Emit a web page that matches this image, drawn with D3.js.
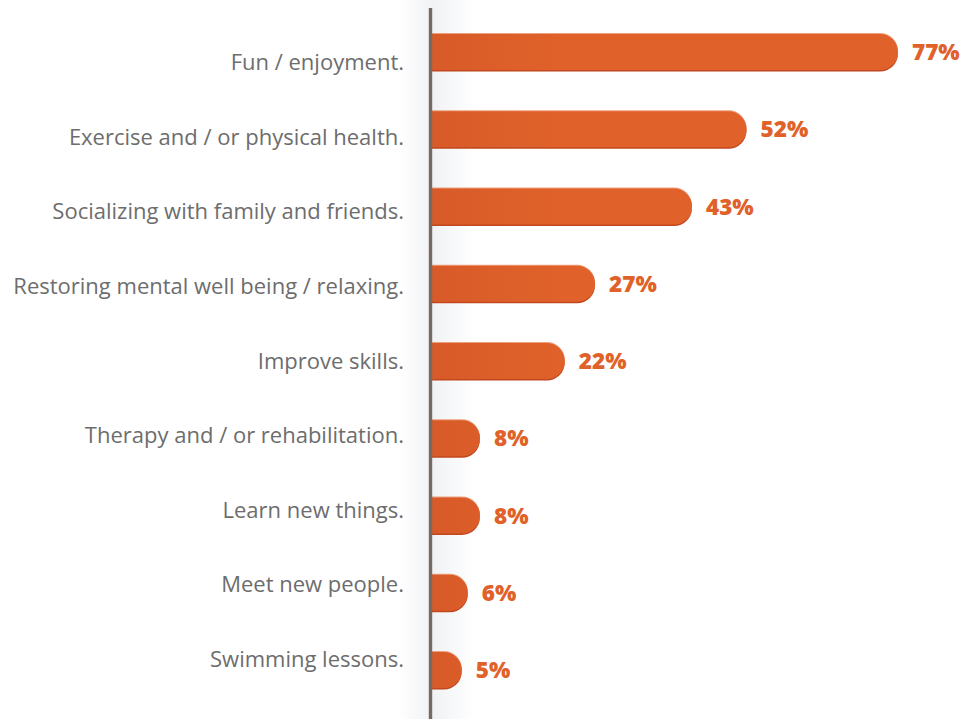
<!DOCTYPE html>
<html>
<head>
<meta charset="utf-8">
<script src="https://cdn.jsdelivr.net/npm/d3@7"></script>
<style>
  html, body { margin: 0; padding: 0; background: #ffffff; }
  svg { display: block; }
</style>
</head>
<body>
<svg id="chart" width="975" height="719"></svg>
<script>
const categories = [
  "Fun / enjoyment.",
  "Exercise and / or physical health.",
  "Socializing with family and friends.",
  "Restoring mental well being / relaxing.",
  "Improve skills.",
  "Therapy and / or rehabilitation.",
  "Learn new things.",
  "Meet new people.",
  "Swimming lessons."
];
const values = [77, 52, 43, 27, 22, 8, 8, 6, 5];
const valueLabels = ["77%", "52%", "43%", "27%", "22%", "8%", "8%", "6%", "5%"];

const data = categories.map((c, i) => ({ cat: c, v: values[i], label: valueLabels[i] }));

const W = 975, H = 719;
const axisX = 430.5;
const svg = d3.select("#chart");
const defs = svg.append("defs");

// background shading around the axis
const gl = defs.append("linearGradient").attr("id", "shadeL").attr("x1", "0").attr("x2", "1");
gl.append("stop").attr("offset", "0").attr("stop-color", "#ffffff");
gl.append("stop").attr("offset", "1").attr("stop-color", "#f2f3f5");
const gr = defs.append("linearGradient").attr("id", "shadeR").attr("x1", "0").attr("x2", "1");
gr.append("stop").attr("offset", "0").attr("stop-color", "#eff1f3");
gr.append("stop").attr("offset", "1").attr("stop-color", "#ffffff");

svg.append("rect").attr("x", 398).attr("y", 0).attr("width", axisX - 398).attr("height", H).attr("fill", "url(#shadeL)");
svg.append("rect").attr("x", axisX).attr("y", 0).attr("width", 45).attr("height", H).attr("fill", "url(#shadeR)");

// bar gradient
const gb = defs.append("linearGradient").attr("id", "barGrad").attr("gradientUnits", "userSpaceOnUse")
  .attr("x1", 432).attr("x2", 560).attr("y1", 0).attr("y2", 0);
gb.append("stop").attr("offset", "0").attr("stop-color", "#d85a28");
gb.append("stop").attr("offset", "1").attr("stop-color", "#e0622a");

const x = d3.scaleLinear().domain([0, 77]).range([431.5, 898]);
const y = d3.scaleBand().domain(categories).range([34, 688]).paddingInner(0.534).paddingOuter(0);
const yLabel = d3.scalePoint().domain(categories).range([70, 667]);

const bh = y.bandwidth();
function barPath(d, dy) {
  const x0 = x(0), x1 = x(d.v), y0 = y(d.cat) + (dy || 0), r = bh / 2;
  return `M${x0},${y0}H${x1 - r}A${r},${r} 0 0 1 ${x1 - r},${y0 + bh}H${x0}Z`;
}

const bars = svg.append("g");
// dark bottom edge
bars.selectAll("path.shadow").data(data).join("path")
  .attr("class", "shadow")
  .attr("d", d => barPath(d, 1.5))
  .attr("fill", "#c2471f");
// light top edge
bars.selectAll("path.hl").data(data).join("path")
  .attr("class", "hl")
  .attr("d", d => barPath(d, -1))
  .attr("fill", "#eea07e");
bars.selectAll("path.bar").data(data).join("path")
  .attr("class", "bar")
  .attr("d", d => barPath(d, 0))
  .attr("fill", "url(#barGrad)");

// value labels
svg.append("g").selectAll("text").data(data).join("text")
  .attr("x", d => x(d.v) + 14)
  .attr("y", d => y(d.cat) + bh / 2)
  .attr("dy", "0.36em")
  .attr("font-family", "'Open Sans', sans-serif")
  .attr("font-weight", 800)
  .attr("font-size", 22.5)
  .attr("fill", "#e0622a")
  .text(d => d.label);

// category labels
svg.append("g").selectAll("text").data(data).join("text")
  .attr("x", 404)
  .attr("y", d => yLabel(d.cat))
  .attr("text-anchor", "end")
  .attr("font-family", "'Open Sans', sans-serif")
  .attr("font-size", 22)
  .attr("fill", "#6d6d6d")
  .text(d => d.cat);

// axis line
svg.append("line")
  .attr("x1", axisX).attr("x2", axisX)
  .attr("y1", 8).attr("y2", H)
  .attr("stroke", "#766a63").attr("stroke-width", 3.4);
</script>
</body>
</html>
